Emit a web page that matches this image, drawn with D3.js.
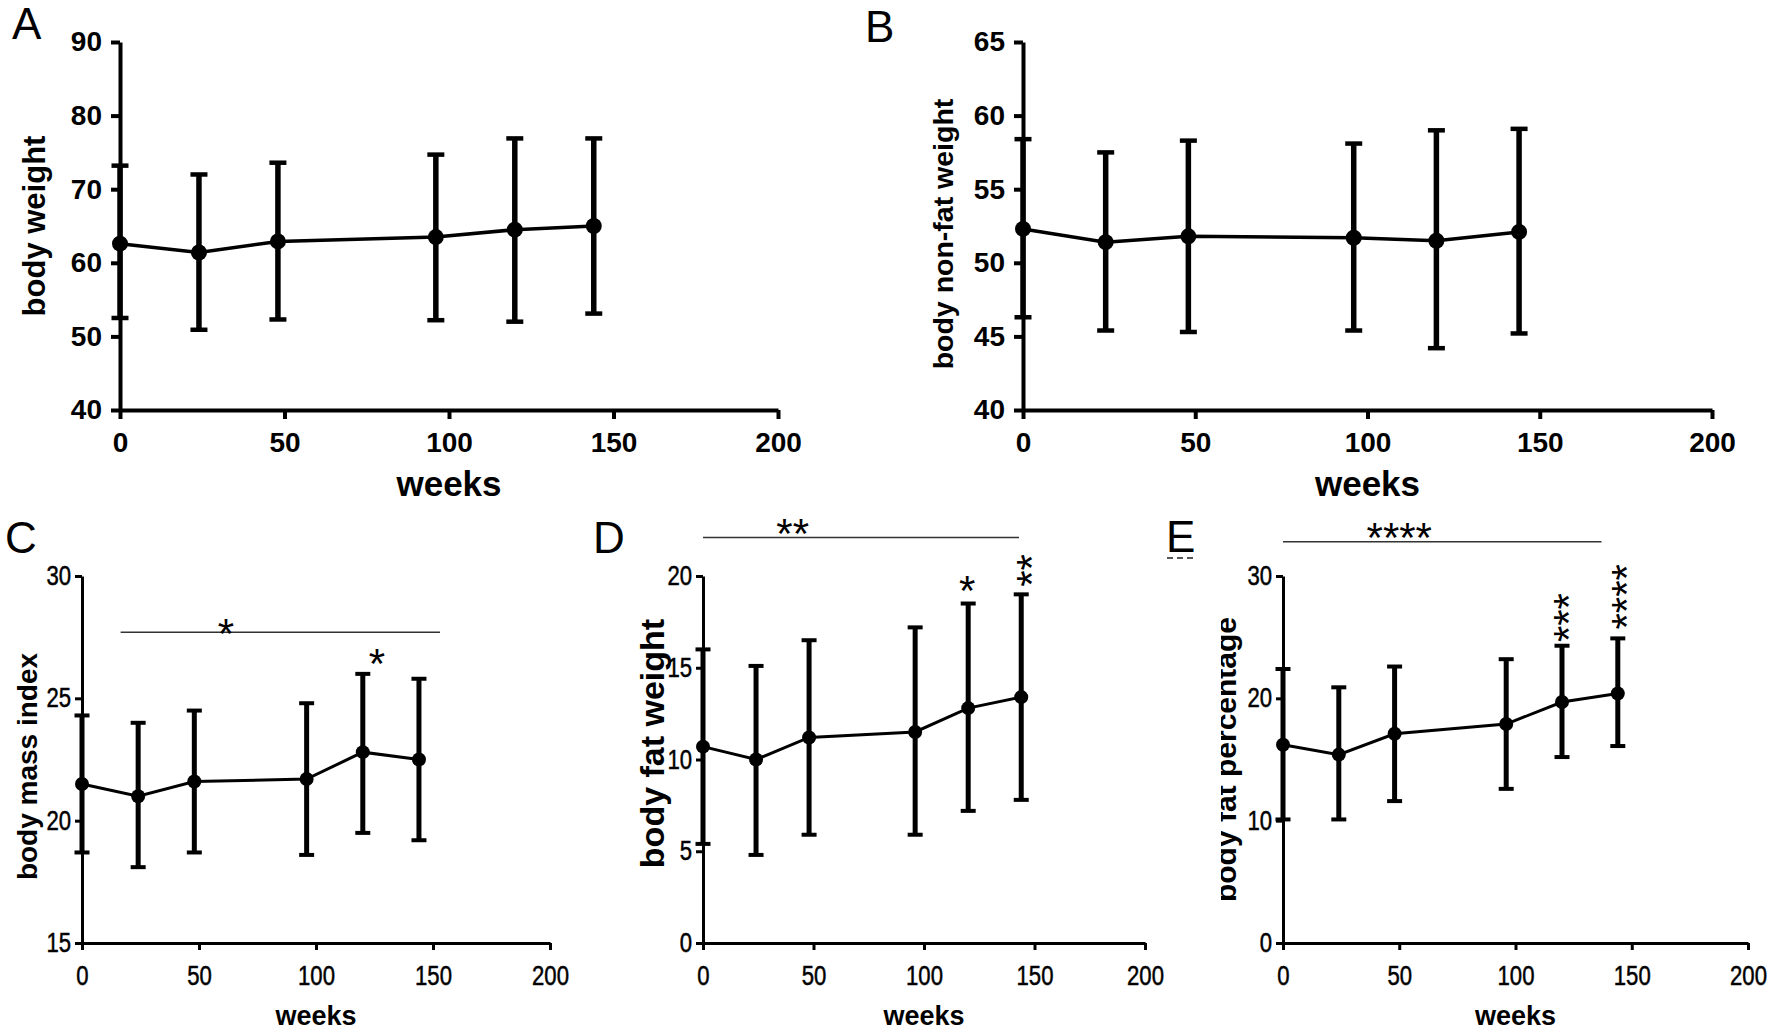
<!DOCTYPE html>
<html>
<head>
<meta charset="utf-8">
<script src="https://cdn.jsdelivr.net/npm/d3@7"></script>
<style>
  body { margin: 0; background: #fff; }
  svg { display: block; }
</style>
</head>
<body>
<svg id="chart" width="1774" height="1032"></svg>
<script>
// x values shared by every panel
const weeks = [0, 24, 48, 96, 120, 144];
const xTicks = [0, 50, 100, 150, 200];

// A - body weight
const weightMean = [62.6, 61.4, 62.9, 63.5, 64.5, 65.0];
const weightHi = [73.2, 72.0, 73.6, 74.7, 76.9, 76.9];
const weightLo = [52.5, 50.9, 52.3, 52.2, 52.0, 53.1];
const weightTicks = [40, 50, 60, 70, 80, 90];

// B - body non-fat weight
const nonFatMean = [52.3, 51.4, 51.8, 51.7, 51.5, 52.1];
const nonFatHi = [58.4, 57.5, 58.3, 58.1, 59.0, 59.1];
const nonFatLo = [46.3, 45.4, 45.3, 45.4, 44.2, 45.2];
const nonFatTicks = [40, 45, 50, 55, 60, 65];

// C - body mass index
const bmiMean = [21.5, 21.0, 21.6, 21.7, 22.8, 22.5];
const bmiHi = [24.3, 24.0, 24.5, 24.8, 26.0, 25.8];
const bmiLo = [18.7, 18.1, 18.7, 18.6, 19.5, 19.2];
const bmiTicks = [15, 20, 25, 30];
const bmiSig = [{ from: 16.5, to: 153, at: 27.7, text: '*', tx: 61.5, ty: 28.0 }];
const bmiStars = [{ week: 126, at: 26.8, text: '*', vertical: false }];

// D - body fat weight
const fatMean = [10.7, 10.0, 11.2, 11.5, 12.8, 13.4];
const fatHi = [16.0, 15.1, 16.5, 17.2, 18.5, 19.0];
const fatLo = [5.4, 4.8, 5.9, 5.9, 7.2, 7.8];
const fatTicks = [0, 5, 10, 15, 20];
const fatSig = [{ from: 0, to: 143, at: 22.1, text: '**', tx: 40.6, ty: 22.8 }];
const fatStars = [
    { week: 119.5, at: 19.7, text: '*', vertical: false },
    { week: 144.5, at: 20.3, text: '**', vertical: true }
];

// E - body fat percentage
const fatPctMean = [16.2, 15.4, 17.1, 17.9, 19.7, 20.4];
const fatPctHi = [22.4, 20.9, 22.6, 23.2, 24.3, 24.9];
const fatPctLo = [10.1, 10.1, 11.6, 12.6, 15.2, 16.1];
const fatPctTicks = [0, 10, 20, 30];
const fatPctSig = [{ from: 0, to: 137, at: 32.8, text: '****', tx: 50, ty: 33.9 }];
const fatPctStars = [
    { week: 119, at: 26.6, text: '***', vertical: true },
    { week: 144, at: 28.3, text: '****', vertical: true }
];

const FONT = '"Liberation Sans", Arial, sans-serif';

// top row panels are drawn a bit heavier than the bottom row
const topRow = { axisW: 4, barW: 5.5, capW: 17, capH: 4.5, lineW: 3.5, r: 8, tick: 9,
    tickWeight: 'bold', tickSize: 28, tickScaleX: 1, tickStroke: 0, yPad: 9, xPad: 13,
    titleSize: 31, weeksSize: 35, weeksGap: 86 };
// bottom row tick labels are a narrow face: squeeze Liberation Sans horizontally
const bottomRow = { axisW: 3, barW: 5, capW: 15, capH: 4, lineW: 3, r: 7, tick: 7,
    tickWeight: 'normal', tickSize: 27, tickScaleX: 0.82, tickStroke: 0.5, yPad: 4, xPad: 16,
    titleSize: 28, weeksSize: 27, weeksGap: 82 };

const panels = [
    { letter: 'A', lx: 12, ly: 39, title: 'body weight', titleGap: 75, titleDy: 0,
      mean: weightMean, hi: weightHi, lo: weightLo, yTicks: weightTicks,
      box: { l: 120, r: 778, t: 42, b: 410 }, st: topRow },
    { letter: 'B', lx: 865, ly: 42, title: 'body non-fat weight', titleGap: 70, titleDy: 8, titleSize: 28.5,
      mean: nonFatMean, hi: nonFatHi, lo: nonFatLo, yTicks: nonFatTicks,
      box: { l: 1023, r: 1712, t: 42, b: 410 }, st: topRow },
    { letter: 'C', lx: 5, ly: 553, title: 'body mass index', titleGap: 45, titleDy: 7,
      mean: bmiMean, hi: bmiHi, lo: bmiLo, yTicks: bmiTicks, sig: bmiSig, stars: bmiStars,
      box: { l: 82, r: 550, t: 576, b: 943 }, st: bottomRow },
    { letter: 'D', lx: 593, ly: 553, title: 'body fat weight', titleGap: 39, titleDy: -16, titleSize: 34,
      mean: fatMean, hi: fatHi, lo: fatLo, yTicks: fatTicks, sig: fatSig, stars: fatStars,
      box: { l: 703, r: 1145, t: 576, b: 943 }, st: bottomRow },
    { letter: 'E', lx: 1166, ly: 552, title: 'body fat percentage', titleGap: 47, titleDy: 0, titleSize: 30,
      clipTitle: 1221, underline: true,
      mean: fatPctMean, hi: fatPctHi, lo: fatPctLo, yTicks: fatPctTicks, sig: fatPctSig, stars: fatPctStars,
      box: { l: 1283, r: 1748, t: 576, b: 943 }, st: bottomRow }
];

const svg = d3.select('#chart');
const defs = svg.append('defs');
const starSize = 42;

panels.forEach((p, pi) => {
    const st = p.st;
    const x = d3.scaleLinear().domain([0, 200]).range([p.box.l, p.box.r]);
    const y = d3.scaleLinear().domain(d3.extent(p.yTicks)).range([p.box.b, p.box.t]);
    const g = svg.append('g');

    // panel letter
    g.append('text')
        .attr('x', p.lx).attr('y', p.ly)
        .attr('font-family', FONT).attr('font-size', 44)
        .text(p.letter);
    if (p.underline) {
        g.append('line')
            .attr('x1', p.lx + 1).attr('x2', p.lx + 31)
            .attr('y1', p.ly + 6).attr('y2', p.ly + 6)
            .attr('stroke', '#222').attr('stroke-width', 1.5)
            .attr('stroke-dasharray', '6,4');
    }

    // axes
    const styleAxis = (a) => {
        a.select('.domain').attr('stroke', '#000').attr('stroke-width', st.axisW);
        a.selectAll('.tick line').attr('stroke', '#000').attr('stroke-width', st.axisW);
        a.selectAll('.tick text')
            .attr('fill', '#000')
            .attr('stroke', st.tickStroke ? '#000' : 'none')
            .attr('stroke-width', st.tickStroke)
            .attr('font-family', FONT)
            .attr('font-weight', st.tickWeight)
            .attr('font-size', st.tickSize)
            .attr('transform', `scale(${st.tickScaleX},1)`);
    };

    g.append('g')
        .attr('transform', `translate(0,${p.box.b})`)
        .call(d3.axisBottom(x).tickValues(xTicks).tickSize(st.tick).tickSizeOuter(0).tickPadding(st.xPad))
        .call(styleAxis);

    g.append('g')
        .attr('transform', `translate(${p.box.l},0)`)
        .call(d3.axisLeft(y).tickValues(p.yTicks).tickSize(st.tick).tickSizeOuter(0).tickPadding(st.yPad))
        .call(styleAxis)
        // undo the squeeze on the label anchor so the gap to the tick stays the same
        .call(a => a.selectAll('.tick text').attr('x', -(st.tick + st.yPad) / st.tickScaleX));

    // axis titles
    g.append('text')
        .attr('x', (p.box.l + p.box.r) / 2)
        .attr('y', p.box.b + st.weeksGap)
        .attr('text-anchor', 'middle')
        .attr('font-family', FONT).attr('font-weight', 'bold')
        .attr('font-size', st.weeksSize)
        .text('weeks');

    let titleParent = g;
    if (p.clipTitle) {
        // the source figure has the tops of this title cut off
        const id = 'clip' + pi;
        defs.append('clipPath').attr('id', id)
            .attr('clipPathUnits', 'userSpaceOnUse')
            .append('rect')
            .attr('x', p.clipTitle).attr('y', p.box.t - 20)
            .attr('width', 200).attr('height', p.box.b - p.box.t + 60);
        titleParent = g.append('g').attr('clip-path', `url(#${id})`);
    }
    titleParent.append('text')
        .attr('transform', `translate(${p.box.l - p.titleGap},${(p.box.t + p.box.b) / 2 + p.titleDy}) rotate(-90)`)
        .attr('text-anchor', 'middle')
        .attr('font-family', FONT).attr('font-weight', 'bold')
        .attr('font-size', p.titleSize || st.titleSize)
        .text(p.title);

    const pts = weeks.map((w, i) => ({ w, m: p.mean[i], hi: p.hi[i], lo: p.lo[i] }));

    // error bars
    const eb = g.append('g').attr('stroke', '#000');
    eb.selectAll('line.bar').data(pts).enter().append('line')
        .attr('x1', d => x(d.w)).attr('x2', d => x(d.w))
        .attr('y1', d => y(d.hi)).attr('y2', d => y(d.lo))
        .attr('stroke-width', st.barW);
    eb.selectAll('line.capHi').data(pts).enter().append('line')
        .attr('x1', d => x(d.w) - st.capW / 2).attr('x2', d => x(d.w) + st.capW / 2)
        .attr('y1', d => y(d.hi)).attr('y2', d => y(d.hi))
        .attr('stroke-width', st.capH);
    eb.selectAll('line.capLo').data(pts).enter().append('line')
        .attr('x1', d => x(d.w) - st.capW / 2).attr('x2', d => x(d.w) + st.capW / 2)
        .attr('y1', d => y(d.lo)).attr('y2', d => y(d.lo))
        .attr('stroke-width', st.capH);

    // mean line and markers
    const line = d3.line().x(d => x(d.w)).y(d => y(d.m));
    g.append('path').datum(pts)
        .attr('d', line)
        .attr('fill', 'none').attr('stroke', '#000').attr('stroke-width', st.lineW);
    g.selectAll('circle.pt').data(pts).enter().append('circle')
        .attr('cx', d => x(d.w)).attr('cy', d => y(d.m))
        .attr('r', st.r).attr('fill', '#000');

    // significance bars
    (p.sig || []).forEach(s => {
        g.append('line')
            .attr('x1', x(s.from)).attr('x2', x(s.to))
            .attr('y1', y(s.at)).attr('y2', y(s.at))
            .attr('stroke', '#333').attr('stroke-width', 1.5);
        g.append('text')
            .attr('x', x(s.tx)).attr('y', y(s.ty) + starSize * 0.56)
            .attr('text-anchor', 'middle')
            .attr('font-family', FONT).attr('font-size', starSize)
            .text(s.text);
    });

    // per-point stars
    (p.stars || []).forEach(s => {
        g.append('g')
            .attr('transform', `translate(${x(s.week)},${y(s.at)}) rotate(${s.vertical ? -90 : 0})`)
            .append('text')
            .attr('y', starSize * 0.56)
            .attr('text-anchor', 'middle')
            .attr('font-family', FONT).attr('font-size', starSize)
            .text(s.text);
    });
});
</script>
</body>
</html>
